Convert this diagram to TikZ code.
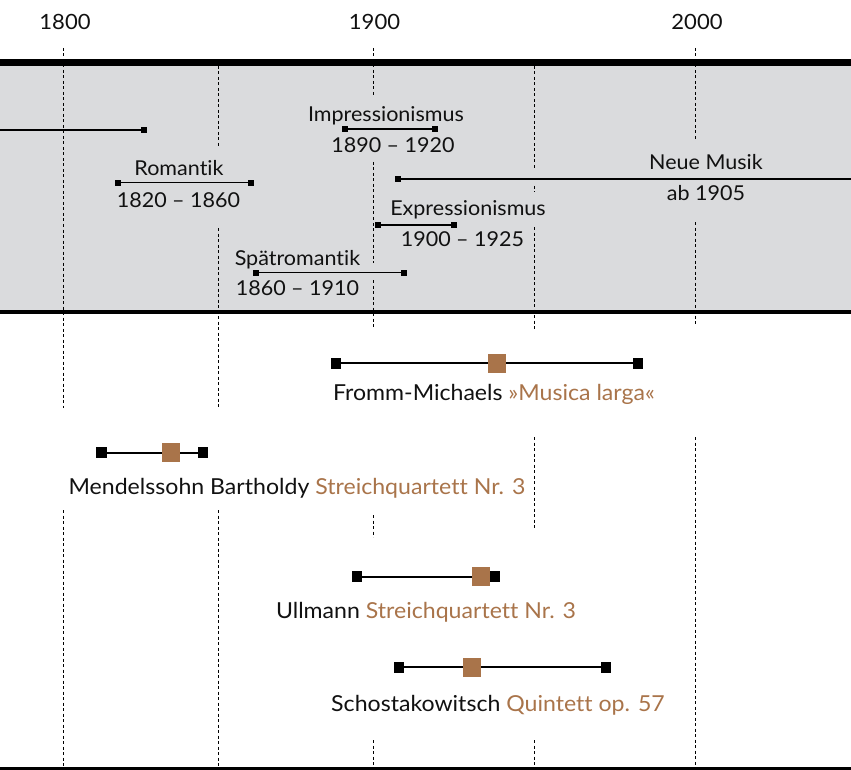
\documentclass[tikz,border=0pt]{standalone}
\usepackage{fontspec}
\setmainfont{Lato}[FakeStretch=1.05, Ligatures={NoCommon}]
\definecolor{band}{HTML}{DADBDD}
\definecolor{brn}{HTML}{A9744A}
\definecolor{ink}{HTML}{111111}
\begin{document}
\begin{tikzpicture}[x=1pt,y=-1pt,
  dl/.style={line width=1pt, dash pattern=on 3pt off 2.5pt},
  yr/.style={font=\fontsize{21}{25}\selectfont, inner sep=0pt, anchor=base, text=ink},
  per/.style={font=\fontsize{20.5}{24}\selectfont, inner sep=0pt, anchor=base, text=ink},
  wrk/.style={font=\fontsize{22}{26}\selectfont, inner sep=0pt, anchor=base, text=ink},
  psq/.style={fill=black, minimum size=5.7pt, inner sep=0pt, outer sep=0pt},
  pline/.style={line width=1.3pt},
  wsq/.style={fill=black, minimum size=10.5pt, inner sep=0pt, outer sep=0pt},
  bsq/.style={fill=brn, minimum size=18.5pt, inner sep=0pt, outer sep=0pt},
  wline/.style={line width=2pt},
]
\useasboundingbox (0,0) rectangle (851,770);
% band
\fill[band] (0,63) rectangle (851,312);
% dashed grid lines
\draw[dl] (63,48) -- (63,408) (63,510) -- (63,768);
\draw[dl] (218,66) -- (218,147) (218,228) -- (218,408) (218,510) -- (218,768);
\draw[dl] (373,48) -- (373,97) (373,162) -- (373,263) (373,280) -- (373,327) (373,515) -- (373,537) (373,740) -- (373,768);
\draw[dl] (534,66) -- (534,170) (534,186) -- (534,192) (534,227) -- (534,330) (534,437) -- (534,530) (534,740) -- (534,768);
\draw[dl] (695,48) -- (695,140) (695,222) -- (695,325) (695,437) -- (695,768);
% band borders
\draw[line width=7pt] (0,63) -- (851,63);
\draw[line width=4pt] (0,312) -- (851,312);
\draw[line width=3pt] (0,768.5) -- (851,768.5);
% year labels
\node[yr] (y1800) at (65,30) {1800};
\node[yr] (y1900) at (374.5,30) {1900};
\node[yr] (y2000) at (697,30) {2000};
% periods
\coordinate (klL) at (0,130);
\node[psq] (klR) at (144,130) {};
\draw[pline] (klL) -- (klR);

\node[psq] (roL) at (117.7,182.7) {};
\node[psq] (roR) at (251,182.7) {};
\draw[pline] (roL) -- (roR);
\node[per] (roT) at (179,176) {Romantik};
\node[per] (roD) at (178.5,207.3) {1820 – 1860};

\node[psq] (imL) at (345,129) {};
\node[psq] (imR) at (435,129) {};
\draw[pline] (imL) -- (imR);
\node[per] (imT) at (386,121.7) {Impressionismus};
\node[per] (imD) at (393,152.7) {1890 – 1920};

\node[psq] (nmL) at (398,179) {};
\coordinate (nmR) at (851,179);
\draw[pline] (nmL) -- (nmR);
\node[per] (nmT) at (706,170) {Neue Musik};
\node[per] (nmD) at (706,200.7) {ab 1905};

\node[psq] (exL) at (378,225) {};
\node[psq] (exR) at (454,225) {};
\draw[pline] (exL) -- (exR);
\node[per] (exT) at (468,215) {Expressionismus};
\node[per] (exD) at (462.5,246) {1900 – 1925};

\node[psq] (spL) at (256,272.7) {};
\node[psq] (spR) at (404,272.7) {};
\draw[pline] (spL) -- (spR);
\node[per] (spT) at (297.5,265) {Spätromantik};
\node[per] (spD) at (297.5,295.7) {1860 – 1910};

% works
\node[wsq] (frL) at (336,363.3) {};
\node[wsq] (frR) at (638,363.3) {};
\draw[wline] (frL) -- (frR);
\node[bsq] (frM) at (497,363.3) {};
\node[wrk] (frT) at (494,400) {Fromm-Michaels \textcolor{brn}{»Musica larga«}};

\node[wsq] (meL) at (101.7,452.7) {};
\node[wsq] (meR) at (203,452.7) {};
\draw[wline] (meL) -- (meR);
\node[bsq] (meM) at (171,452.7) {};
\node[wrk] (meT) at (297,494) {Mendelssohn Bartholdy \textcolor{brn}{Streichquartett Nr. 3}};

\node[wsq] (ulL) at (357,576.7) {};
\node[wsq] (ulR) at (495,576.7) {};
\draw[wline] (ulL) -- (ulR);
\node[bsq] (ulM) at (481,576.7) {};
\node[wrk] (ulT) at (426,618.3) {Ullmann \textcolor{brn}{Streichquartett Nr. 3}};

\node[wsq] (scL) at (399,667.3) {};
\node[wsq] (scR) at (606,667.3) {};
\draw[wline] (scL) -- (scR);
\node[bsq] (scM) at (472,667.3) {};
\node[wrk] (scT) at (498,711) {Schostakowitsch \textcolor{brn}{Quintett op. 57}};
\end{tikzpicture}
\end{document}
